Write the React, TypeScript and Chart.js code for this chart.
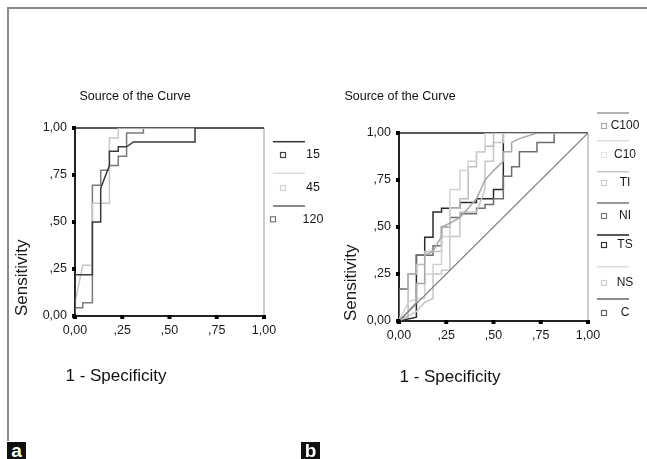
import React, { useEffect, useRef } from "react";
import { Chart, registerables } from "chart.js";
Chart.register(...registerables);

const FONT = "'Liberation Sans', Arial, Helvetica, sans-serif";

// ---- shared axis ticks ----
const tickValues = [0, 0.25, 0.5, 0.75, 1];
const tickLabels = ["0,00", ",25", ",50", ",75", "1,00"];

const headerText = "Source of the Curve";
const xAxisTitle = "1 - Specificity";
const yAxisTitle = "Sensitivity";

// ---- panel a data ----
const aNames = ["15", "45", "120"];
const a15X = [0, 0, 0.041, 0.092, 0.092, 0.136, 0.136, 0.182, 0.182, 0.229, 0.229, 0.273, 0.309, 0.635, 0.635, 1];
const a15Y = [0, 0.22, 0.22, 0.22, 0.5, 0.5, 0.68, 0.8, 0.876, 0.876, 0.9, 0.9, 0.926, 0.926, 1, 1];
const a45X = [0, 0, 0.041, 0.092, 0.092, 0.182, 0.182, 0.229, 0.229, 1];
const a45Y = [0, 0.07, 0.27, 0.27, 0.6, 0.6, 0.947, 0.947, 1, 1];
const a120X = [0, 0, 0.041, 0.041, 0.092, 0.092, 0.136, 0.136, 0.182, 0.182, 0.229, 0.229, 0.273, 0.273, 0.362, 0.362, 1];
const a120Y = [0, 0.044, 0.044, 0.07, 0.07, 0.696, 0.696, 0.775, 0.775, 0.8, 0.8, 0.85, 0.85, 0.973, 0.973, 1, 1];

// ---- panel b data ----
const bNames = ["C100", "C10", "TI", "NI", "TS", "NS", "C"];
const bC100X = [0, 0.048, 0.092, 0.092, 0.136, 0.136, 0.18, 0.225, 0.225, 0.269, 0.322, 0.366, 0.41, 0.455, 0.5, 0.552, 0.552, 0.596, 0.596, 0.637, 0.73, 1];
const bC100Y = [0, 0.05, 0.1, 0.2, 0.2, 0.35, 0.37, 0.45, 0.5, 0.52, 0.55, 0.6, 0.65, 0.75, 0.8, 0.85, 0.9, 0.9, 0.95, 0.97, 1, 1];
const bC10X = [0, 0.048, 0.092, 0.136, 0.136, 0.18, 0.18, 0.225, 0.225, 0.269, 0.269, 0.322, 0.322, 0.366, 0.366, 0.41, 0.41, 0.455, 0.455, 1];
const bC10Y = [0, 0.1, 0.12, 0.12, 0.25, 0.25, 0.3, 0.3, 0.45, 0.45, 0.7, 0.7, 0.8, 0.8, 0.85, 0.85, 0.9, 0.9, 1, 1];
const bTIX = [0, 0, 0.048, 0.048, 0.092, 0.092, 0.136, 0.136, 0.225, 0.225, 0.269, 0.269, 0.322, 0.322, 0.366, 0.366, 0.41, 0.41, 0.455, 0.455, 0.5, 0.5, 1];
const bTIY = [0, 0.02, 0.02, 0.25, 0.25, 0.3, 0.3, 0.37, 0.37, 0.5, 0.5, 0.6, 0.6, 0.65, 0.65, 0.82, 0.82, 0.9, 0.9, 0.93, 0.93, 1, 1];
const bNIX = [0, 0, 0.048, 0.048, 0.092, 0.092, 0.18, 0.18, 0.225, 0.225, 0.269, 0.269, 0.322, 0.322, 0.41, 0.41, 0.455, 0.455, 0.5, 0.5, 0.552, 0.552, 0.596, 0.596, 0.637, 0.637, 0.73, 0.73, 0.821, 0.821, 1];
const bNIY = [0, 0.17, 0.17, 0.25, 0.25, 0.35, 0.35, 0.4, 0.4, 0.5, 0.5, 0.55, 0.55, 0.57, 0.57, 0.6, 0.6, 0.62, 0.62, 0.65, 0.65, 0.77, 0.77, 0.82, 0.82, 0.9, 0.9, 0.95, 0.95, 1, 1];
const bTSX = [0, 0.092, 0.092, 0.136, 0.136, 0.18, 0.18, 0.225, 0.225, 0.322, 0.322, 0.41, 0.41, 0.5, 0.5, 0.552, 0.552, 1];
const bTSY = [0, 0.02, 0.35, 0.35, 0.445, 0.445, 0.58, 0.58, 0.6, 0.6, 0.63, 0.63, 0.65, 0.65, 0.7, 0.7, 1, 1];
const bNSX = [0, 0.092, 0.136, 0.18, 0.18, 0.225, 0.225, 0.269, 0.269, 0.322, 0.322, 0.41, 0.455, 0.455, 0.5, 0.5, 0.552, 0.552, 1];
const bNSY = [0, 0.05, 0.1, 0.12, 0.25, 0.25, 0.27, 0.27, 0.45, 0.45, 0.58, 0.58, 0.7, 0.85, 0.85, 0.95, 0.95, 1, 1];
const bCX = [0, 1];
const bCY = [0, 1];

type Series = { label: string; xs: number[]; ys: number[]; color: string; width: number };
type LegendItem = { label: string; lineY: number; lineColor: string; markerX: number; markerY: number; markerColor: string };

const seriesA: Series[] = [
  { label: aNames[0], xs: a15X, ys: a15Y, color: "#3a3a3a", width: 1.5 },
  { label: aNames[1], xs: a45X, ys: a45Y, color: "#c8c8c8", width: 1.5 },
  { label: aNames[2], xs: a120X, ys: a120Y, color: "#7a7a7a", width: 1.5 },
];
const seriesB: Series[] = [
  { label: bNames[6], xs: bCX, ys: bCY, color: "#777777", width: 1.2 },
  { label: bNames[0], xs: bC100X, ys: bC100Y, color: "#a8a8a8", width: 1.5 },
  { label: bNames[1], xs: bC10X, ys: bC10Y, color: "#d2d2d2", width: 1.5 },
  { label: bNames[2], xs: bTIX, ys: bTIY, color: "#bdbdbd", width: 1.5 },
  { label: bNames[5], xs: bNSX, ys: bNSY, color: "#c6c6c6", width: 1.5 },
  { label: bNames[3], xs: bNIX, ys: bNIY, color: "#6e6e6e", width: 1.5 },
  { label: bNames[4], xs: bTSX, ys: bTSY, color: "#2a2a2a", width: 1.5 },
];

const legendA: LegendItem[] = [
  { label: aNames[0], lineY: 141.7, lineColor: "#333", markerX: 283, markerY: 155, markerColor: "#444" },
  { label: aNames[1], lineY: 173.3, lineColor: "#dcdcdc", markerX: 283, markerY: 188, markerColor: "#cfcfcf" },
  { label: aNames[2], lineY: 206, lineColor: "#666", markerX: 273, markerY: 219.3, markerColor: "#777" },
];
const legendB: LegendItem[] = [
  { label: bNames[0], lineY: 113, lineColor: "#999", markerX: 284, markerY: 126, markerColor: "#aaa" },
  { label: bNames[1], lineY: 140.7, lineColor: "#ddd", markerX: 284, markerY: 155, markerColor: "#e6e6e6" },
  { label: bNames[2], lineY: 171.7, lineColor: "#c8c8c8", markerX: 284, markerY: 183, markerColor: "#ccc" },
  { label: bNames[3], lineY: 203, lineColor: "#777", markerX: 284, markerY: 216, markerColor: "#777" },
  { label: bNames[4], lineY: 235, lineColor: "#222", markerX: 284, markerY: 245, markerColor: "#333" },
  { label: bNames[5], lineY: 266.7, lineColor: "#ddd", markerX: 284, markerY: 283, markerColor: "#ccc" },
  { label: bNames[6], lineY: 299, lineColor: "#666", markerX: 284, markerY: 313, markerColor: "#666" },
];

type PanelProps = {
  left: number;
  width: number;
  area: { left: number; right: number; top: number; bottom: number };
  series: Series[];
  legend: LegendItem[];
  legendLine: [number, number];
  legendTextX: number;
  legendFont: number;
  headerX: number;
  xTitleX: number;
  xTitleY: number;
  yTitlePad: number;
};

function Panel(p: PanelProps) {
  const ref = useRef<HTMLCanvasElement>(null);
  useEffect(() => {
    const canvas = ref.current!;
    const decor = {
      id: "decor",
      beforeDatasetsDraw(chart: any) {
        const { ctx, chartArea: ca } = chart;
        ctx.save();
        ctx.strokeStyle = "#222";
        ctx.lineWidth = 1.5;
        ctx.beginPath();
        ctx.moveTo(ca.left, ca.top);
        ctx.lineTo(ca.right, ca.top);
        ctx.stroke();
        ctx.strokeStyle = "#9a9a9a";
        ctx.lineWidth = 1;
        ctx.beginPath();
        ctx.moveTo(ca.right, ca.top);
        ctx.lineTo(ca.right, ca.bottom);
        ctx.stroke();
        ctx.restore();
      },
      afterDraw(chart: any) {
        const { ctx, chartArea: ca, scales } = chart;
        ctx.save();
        // tick squares
        ctx.fillStyle = "#000";
        tickValues.forEach((v) => {
          const x = scales.x.getPixelForValue(v);
          ctx.fillRect(x - 2, ca.bottom - 1, 4, 4);
          const y = scales.y.getPixelForValue(v);
          ctx.fillRect(ca.left - 3, y - 2, 4, 4);
        });
        // header
        ctx.fillStyle = "#111";
        ctx.font = `12.5px ${FONT}`;
        ctx.textAlign = "center";
        ctx.textBaseline = "middle";
        ctx.fillText(headerText, p.headerX, 97);
        // x title
        ctx.font = `17px ${FONT}`;
        ctx.fillText(xAxisTitle, p.xTitleX, p.xTitleY);
        // legend
        ctx.font = `${p.legendFont}px ${FONT}`;
        p.legend.forEach((it) => {
          ctx.strokeStyle = it.lineColor;
          ctx.lineWidth = 1.5;
          ctx.beginPath();
          ctx.moveTo(p.legendLine[0], it.lineY);
          ctx.lineTo(p.legendLine[1], it.lineY);
          ctx.stroke();
          ctx.lineWidth = 1.2;
          ctx.strokeStyle = it.markerColor;
          ctx.strokeRect(it.markerX - 2.5, it.markerY - 2.5, 5, 5);
          ctx.fillStyle = "#1a1a1a";
          ctx.fillText(it.label, p.legendTextX, it.markerY);
        });
        ctx.restore();
      },
    };
    const axisFont = { family: FONT, size: 12.5 };
    const fmt = (v: any) => {
      const i = tickValues.indexOf(Number(v));
      return i >= 0 ? tickLabels[i] : "";
    };
    const chart = new Chart(canvas, {
      type: "scatter",
      data: {
        datasets: p.series.map((s) => ({
          label: s.label,
          data: s.xs.map((x, i) => ({ x, y: s.ys[i] })),
          showLine: true,
          borderColor: s.color,
          backgroundColor: s.color,
          borderWidth: s.width,
          pointRadius: 0,
          pointHoverRadius: 0,
          fill: false,
          tension: 0,
        })),
      },
      options: {
        responsive: false,
        maintainAspectRatio: false,
        animation: false,
        events: [],
        layout: {
          padding: { left: 0, top: p.area.top, right: p.width - p.area.right, bottom: 459 - p.area.bottom - 30 },
        },
        plugins: { legend: { display: false }, tooltip: { enabled: false }, title: { display: false } },
        scales: {
          x: {
            type: "linear",
            min: 0,
            max: 1,
            afterBuildTicks: (s: any) => {
              s.ticks = tickValues.map((v) => ({ value: v }));
            },
            afterFit: (s: any) => {
              s.height = 30;
            },
            ticks: { callback: fmt, font: axisFont, color: "#1a1a1a", padding: 7, maxRotation: 0, autoSkip: false },
            grid: { display: true, drawOnChartArea: false, drawTicks: false, color: "rgba(0,0,0,0)" },
            border: { display: true, color: "#222", width: 2 },
          },
          y: {
            type: "linear",
            min: 0,
            max: 1,
            afterBuildTicks: (s: any) => {
              s.ticks = tickValues.map((v) => ({ value: v }));
            },
            afterFit: (s: any) => {
              s.width = p.area.left;
            },
            ticks: { callback: fmt, font: axisFont, color: "#1a1a1a", padding: 8, autoSkip: false },
            grid: { display: true, drawOnChartArea: false, drawTicks: false, color: "rgba(0,0,0,0)" },
            border: { display: true, color: "#222", width: 2 },
            title: {
              display: true,
              text: yAxisTitle,
              align: "start",
              color: "#1a1a1a",
              font: { family: FONT, size: 17 },
              padding: { top: p.yTitlePad, bottom: 0 },
            },
          },
        },
      } as any,
      plugins: [decor],
    });
    return () => chart.destroy();
  }, []);
  return (
    <canvas
      ref={ref}
      width={p.width}
      height={459}
      style={{ position: "absolute", left: p.left, top: 0, width: p.width, height: 459 }}
    />
  );
}

const labelStyle = (left: number): React.CSSProperties => ({
  position: "absolute",
  left,
  top: 442,
  width: 19,
  height: 17,
  background: "#111",
  color: "#fff",
  fontFamily: FONT,
  fontWeight: "bold",
  fontSize: 19,
  lineHeight: "17px",
  textAlign: "center",
  overflow: "hidden",
});

export default function App() {
  return (
    <div style={{ position: "absolute", left: 0, top: 0, width: 647, height: 459, background: "#fff", overflow: "hidden" }}>
      <div
        style={{
          position: "absolute",
          left: 7,
          top: 7,
          width: 640,
          height: 434,
          borderLeft: "2px solid #8a8a8a",
          borderTop: "2px solid #8a8a8a",
          boxSizing: "border-box",
        }}
      />
      <Panel
        left={0}
        width={330}
        area={{ left: 75, right: 264, top: 128, bottom: 316 }}
        series={seriesA}
        legend={legendA}
        legendLine={[273, 305]}
        legendTextX={313}
        legendFont={12.5}
        headerX={135}
        xTitleX={116}
        xTitleY={376}
        yTitlePad={12}
      />
      <Panel
        left={320}
        width={327}
        area={{ left: 79, right: 268, top: 133, bottom: 321 }}
        series={seriesB}
        legend={legendB}
        legendLine={[277, 309]}
        legendTextX={305}
        legendFont={12}
        headerX={80}
        xTitleX={130}
        xTitleY={377}
        yTitlePad={21}
      />
      <div style={labelStyle(7)}>a</div>
      <div style={labelStyle(301)}>b</div>
    </div>
  );
}
